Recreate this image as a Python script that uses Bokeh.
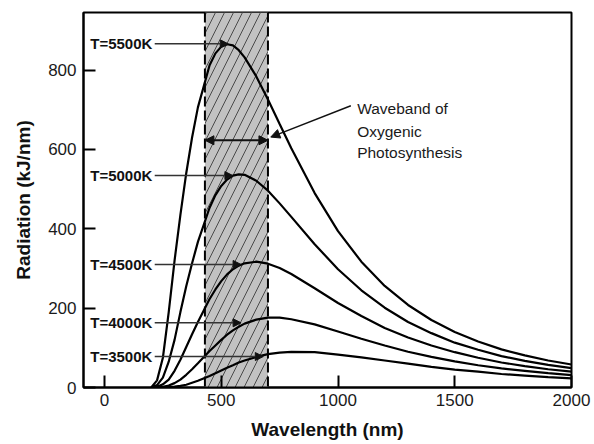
from bokeh.plotting import figure
from bokeh.models import Arrow, NormalHead, Span
from bokeh.core.properties import value
from bokeh.embed import file_html
from bokeh.resources import INLINE

# ---- data ----
wavelength = [200, 225, 250, 275, 300, 325, 350, 375, 400, 450, 475, 500, 525, 550, 575,
              600, 650, 700, 750, 800, 900, 1000, 1100, 1200, 1300, 1400, 1500, 1600,
              1700, 1800, 1900, 2000]
rad_5500 = [0, 18, 75, 190, 320, 435, 540, 630, 706, 812, 842, 859, 865, 862, 850,
            832, 784, 726, 664, 603, 490, 394, 317, 256, 208, 170, 140, 116, 96, 81, 68, 58]
rad_5000 = [0, 6, 25, 65, 120, 190, 255, 313, 367, 453, 485, 508, 524, 534, 537,
            536, 521, 496, 464, 430, 361, 298, 245, 201, 165, 137, 113, 95, 79, 67, 57, 49]
rad_4500 = [0, 2, 8, 20, 42, 70, 102, 134, 165, 223, 247, 268, 285, 298, 307,
            313, 317, 312, 301, 286, 250, 213, 180, 150, 126, 106, 89, 75, 63, 54, 46, 40]
rad_4000 = [0, 0, 2, 5, 11, 20, 32, 46, 61, 92, 106, 120, 133, 144, 153,
            161, 171, 176, 176, 172, 159, 141, 123, 106, 90, 77, 66, 56, 48, 42, 36, 31]
rad_3500 = [0, 0, 0, 1, 2, 4, 7, 12, 17, 29, 36, 43, 50, 56, 63,
            68, 77, 84, 88, 90, 89, 83, 76, 68, 60, 52, 45, 40, 34, 30, 26, 23]
series = [rad_5500, rad_5000, rad_4500, rad_4000, rad_3500]

temp_labels = ["T=5500K", "T=5000K", "T=4500K", "T=4000K", "T=3500K"]
label_rad = [866, 534, 310, 163, 78]          # height of each label / arrow
arrow_tip_nm = [530, 550, 585, 585, 680]      # where each label arrow ends

band_lo, band_hi = 430, 700                   # waveband of oxygenic photosynthesis
band_arrow_rad = 623
note_lines = ["Waveband of", "Oxygenic", "Photosynthesis"]

x_ticks = [0, 500, 1000, 1500, 2000]
y_ticks = [0, 200, 400, 600, 800]
X_MIN, X_MAX, Y_MIN, Y_MAX = -90, 2000, 0, 945

FONT = "Liberation Sans"
INK = "#111111"

p = figure(width=594, height=444, x_range=(X_MIN, X_MAX), y_range=(Y_MIN, Y_MAX),
           output_backend="svg", toolbar_location=None,
           min_border_left=83, min_border_right=23, min_border_top=12, min_border_bottom=57)
p.background_fill_color = "white"
p.border_fill_color = "white"
p.xgrid.visible = False
p.ygrid.visible = False
p.outline_line_color = "black"
p.outline_line_width = 2
p.outline_line_alpha = 1

for ax in (p.xaxis, p.yaxis):
    ax.axis_line_width = 2
    ax.axis_line_color = "black"
    ax.major_tick_in = 12
    ax.major_tick_out = 0
    ax.major_tick_line_width = 2
    ax.major_tick_line_color = "black"
    ax.minor_tick_in = 0
    ax.minor_tick_out = 0
    ax.major_label_text_font = FONT
    ax.major_label_text_font_size = "17px"
    ax.major_label_text_color = "#1a1a1a"
    ax.axis_label_text_font = FONT
    ax.axis_label_text_font_style = "bold"
    ax.axis_label_text_font_size = "19px"
    ax.axis_label_text_color = INK

p.xaxis.ticker = x_ticks
p.yaxis.ticker = y_ticks
p.xaxis.major_label_standoff = 6
p.yaxis.major_label_standoff = 7

p.xaxis.axis_label = "Wavelength (nm)"
p.xaxis.axis_label_standoff = 10
p.yaxis.axis_label = "Radiation (kJ/nm)"
p.yaxis.axis_label_standoff = 11

# shaded band
p.quad(left=[band_lo], right=[band_hi], bottom=[Y_MIN], top=[Y_MAX],
       fill_color="#c2c2c2", line_color=None,
       hatch_pattern="/", hatch_color="#4a4a4a", hatch_scale=18, hatch_weight=1)
for loc in (band_lo, band_hi):
    p.add_layout(Span(location=loc, dimension="height", line_color="black",
                      line_width=2, line_dash="10 4"))

# curves
for ys in series:
    p.line(wavelength, ys, line_color="black", line_width=2.2)

# temperature labels with arrows
p.text(x=[205] * len(temp_labels), y=label_rad, text=temp_labels,
       text_font=value(FONT), text_font_style="bold", text_font_size="15px",
       text_align="right", text_baseline="middle", text_color=INK)
for ly, tip in zip(label_rad, arrow_tip_nm):
    p.add_layout(Arrow(end=NormalHead(size=8, fill_color=INK, line_color=INK),
                       x_start=215, y_start=ly, x_end=tip, y_end=ly,
                       line_color="#333333", line_width=1.5))

# double arrow across the band
p.add_layout(Arrow(start=NormalHead(size=9, fill_color=INK, line_color=INK),
                   end=NormalHead(size=9, fill_color=INK, line_color=INK),
                   x_start=band_lo, y_start=band_arrow_rad, x_end=band_hi, y_end=band_arrow_rad,
                   line_color=INK, line_width=2))
# pointer from note to band
p.add_layout(Arrow(end=NormalHead(size=9, fill_color=INK, line_color=INK),
                   x_start=1055, y_start=710, x_end=712, y_end=631,
                   line_color=INK, line_width=1.5))
p.text(x=[1082] * 3, y=[702, 646, 591], text=note_lines,
       text_font=value(FONT), text_font_size="15.5px",
       text_align="left", text_baseline="middle", text_color="#1a1a1a")

open("out.html", "w").write(file_html(p, INLINE))
